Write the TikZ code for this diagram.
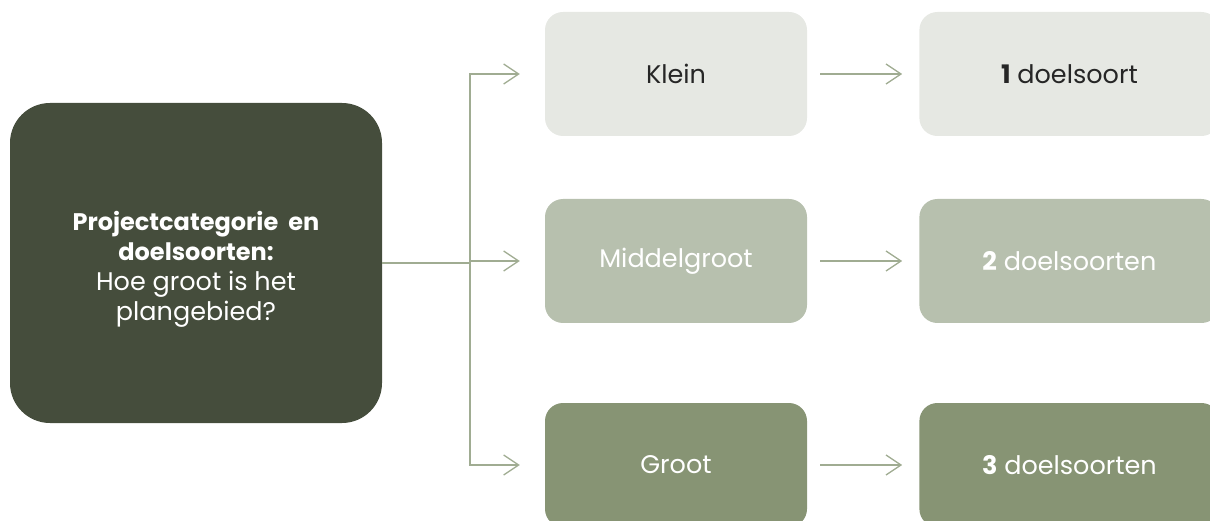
\documentclass[tikz,border=0pt]{standalone}
\usepackage{fontspec}
\setmainfont{Poppins}
\usepackage{xcolor}
\usetikzlibrary{arrows.meta}
\usetikzlibrary{positioning}
\definecolor{donker}{HTML}{454D3C}
\definecolor{licht}{HTML}{E6E8E3}
\definecolor{midden}{HTML}{B7C0AE}
\definecolor{groen}{HTML}{879474}
\definecolor{lijn}{HTML}{A0AC92}
\tikzset{blok/.style={rounded corners=18pt, minimum width=262pt, minimum height=124pt, inner sep=0pt, font=\fontsize{25.5}{30}\selectfont}}
\tikzset{pijl/.style={draw=lijn, line width=1.3pt, -{Straight Barb[length=15pt,width=20pt,line width=1.3pt]}}}

\begin{document}
\begin{tikzpicture}[x=1pt,y=-1pt]
{
\useasboundingbox (0,0) rectangle (1210,521);
\clip (0,0) rectangle (1210,521);
\node[blok, fill=donker, minimum width=372pt, minimum height=320pt, rounded corners=40pt] (vraag) at (196,263) {};
\node[text=white, align=center, inner sep=0pt, font=\fontsize{24}{30}\selectfont] (vraagtekst) at ([yshift=-6pt]vraag.center)
  {\textbf{Projectcategorie\ \ en}\\ \textbf{doelsoorten:}\\ {\fontsize{25.5}{30}\selectfont Hoe groot is het}\\ {\fontsize{25.5}{30}\selectfont plangebied?}};
\node[blok, fill=licht, text=black!85] (klein) at (676,74) {Klein};
\node[blok, fill=midden, text=white] (middel) at (676,261) {Middelgroot};
\node[blok, fill=groen, text=white] (groot) at (676,465) {Groot};
\node[blok, fill=licht, text=black!85, minimum width=300pt, right=112pt of klein] (een) {\textbf{1} doelsoort};
\node[blok, fill=midden, text=white, minimum width=300pt, right=112pt of middel] (twee) {\textbf{2} doelsoorten};
\node[blok, fill=groen, text=white, minimum width=300pt, right=112pt of groot] (drie) {\textbf{3} doelsoorten};
\coordinate (split) at (470,263);
\draw[draw=lijn, line width=1.3pt] (vraag.east) -- (split);
\draw[pijl, shorten >=25pt] (split) |- (klein.west);
\draw[pijl, shorten >=25pt] (split) |- (middel.west);
\draw[pijl, shorten >=25pt] (split) |- (groot.west);
\draw[pijl, shorten <=13pt, shorten >=17pt] (klein) -- (een);
\draw[pijl, shorten <=13pt, shorten >=17pt] (middel) -- (twee);
\draw[pijl, shorten <=13pt, shorten >=17pt] (groot) -- (drie);
}
\end{tikzpicture}
\end{document}
